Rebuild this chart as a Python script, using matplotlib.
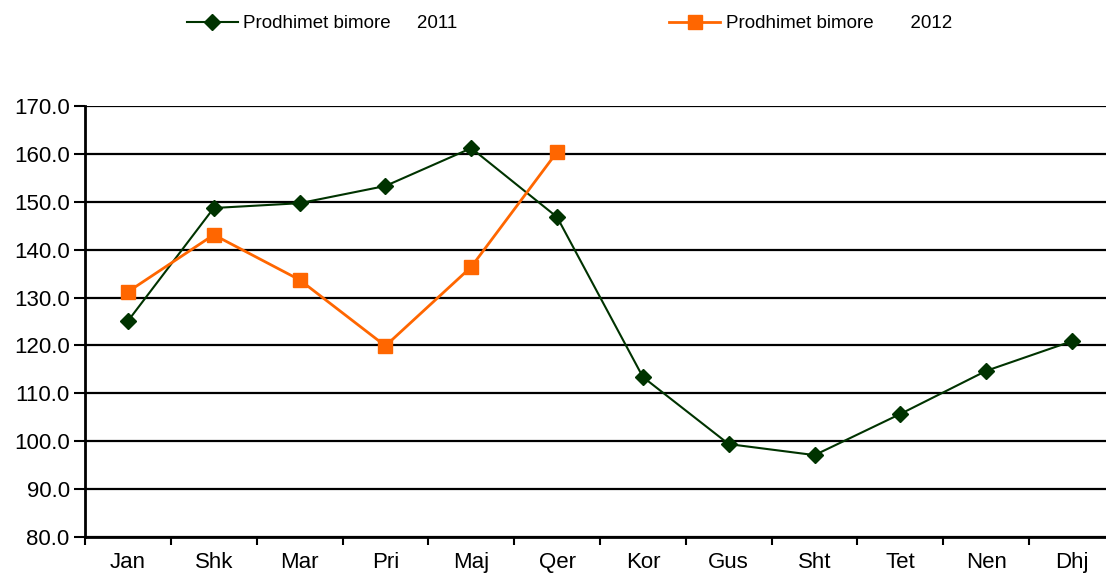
import matplotlib
matplotlib.use("Agg")
import matplotlib.pyplot as plt
import numpy as np

months = ["Jan", "Shk", "Mar", "Pri", "Maj", "Qer", "Kor", "Gus", "Sht", "Tet", "Nen", "Dhj"]
values_2011 = [125.1, 148.7, 149.7, 153.3, 161.2, 146.8, 113.4, 99.4, 97.1, 105.7, 114.7, 120.9]
values_2012 = [131.2, 143.1, 133.7, 119.9, 136.4, 160.4]
label_2011 = "Prodhimet bimore     2011"
label_2012 = "Prodhimet bimore       2012"
yticks = np.arange(80, 171, 10)

plt.rcParams['font.family'] = ['Liberation Sans', 'DejaVu Sans']

fig = plt.figure(figsize=(11.06, 5.75), dpi=100)
ax = fig.add_axes([85/1106, 38/575, 1030/1106, 431/575])

x = np.arange(len(months))
ax.plot(x, values_2011, color="#003300", lw=1.5, marker="D", ms=8,
        mfc="#003300", mec="#003300", label=label_2011, zorder=3)
ax.plot(np.arange(len(values_2012)), values_2012, color="#FF6600", lw=2,
        marker="s", ms=10, mfc="#FF6600", mec="#FF6600", label=label_2012, zorder=4)

ax.set_xlim(-0.5, len(months) - 0.5)
ax.set_ylim(80, 170)
ax.set_yticks(yticks)
ax.set_yticklabels([f"{v:.1f}" for v in yticks], fontsize=16)
ax.set_xticks(x)
ax.set_xticklabels(months, fontsize=16)
ax.set_xticks(np.arange(-0.5, len(months) - 0.5, 1), minor=True)
ax.tick_params(axis="x", which="major", length=0, pad=11)
ax.tick_params(axis="x", which="minor", length=6, width=1.5, direction="out")
ax.tick_params(axis="y", length=8, width=1.5, direction="out", pad=3)

ax.grid(axis="y", color="black", lw=1.6, zorder=1)
ax.set_axisbelow(True)
for s in ["top", "right"]:
    ax.spines[s].set_visible(False)
for s in ["left", "bottom"]:
    ax.spines[s].set_linewidth(2)
    ax.spines[s].set_color("black")

fig.legend(loc="upper left", bbox_to_anchor=(172/1106, 1.0), ncol=2, frameon=False,
           fontsize=13.5, handlelength=2.7, columnspacing=11.3, handletextpad=0.3,
           borderaxespad=0.4)

fig.savefig("out.png", dpi=100)
